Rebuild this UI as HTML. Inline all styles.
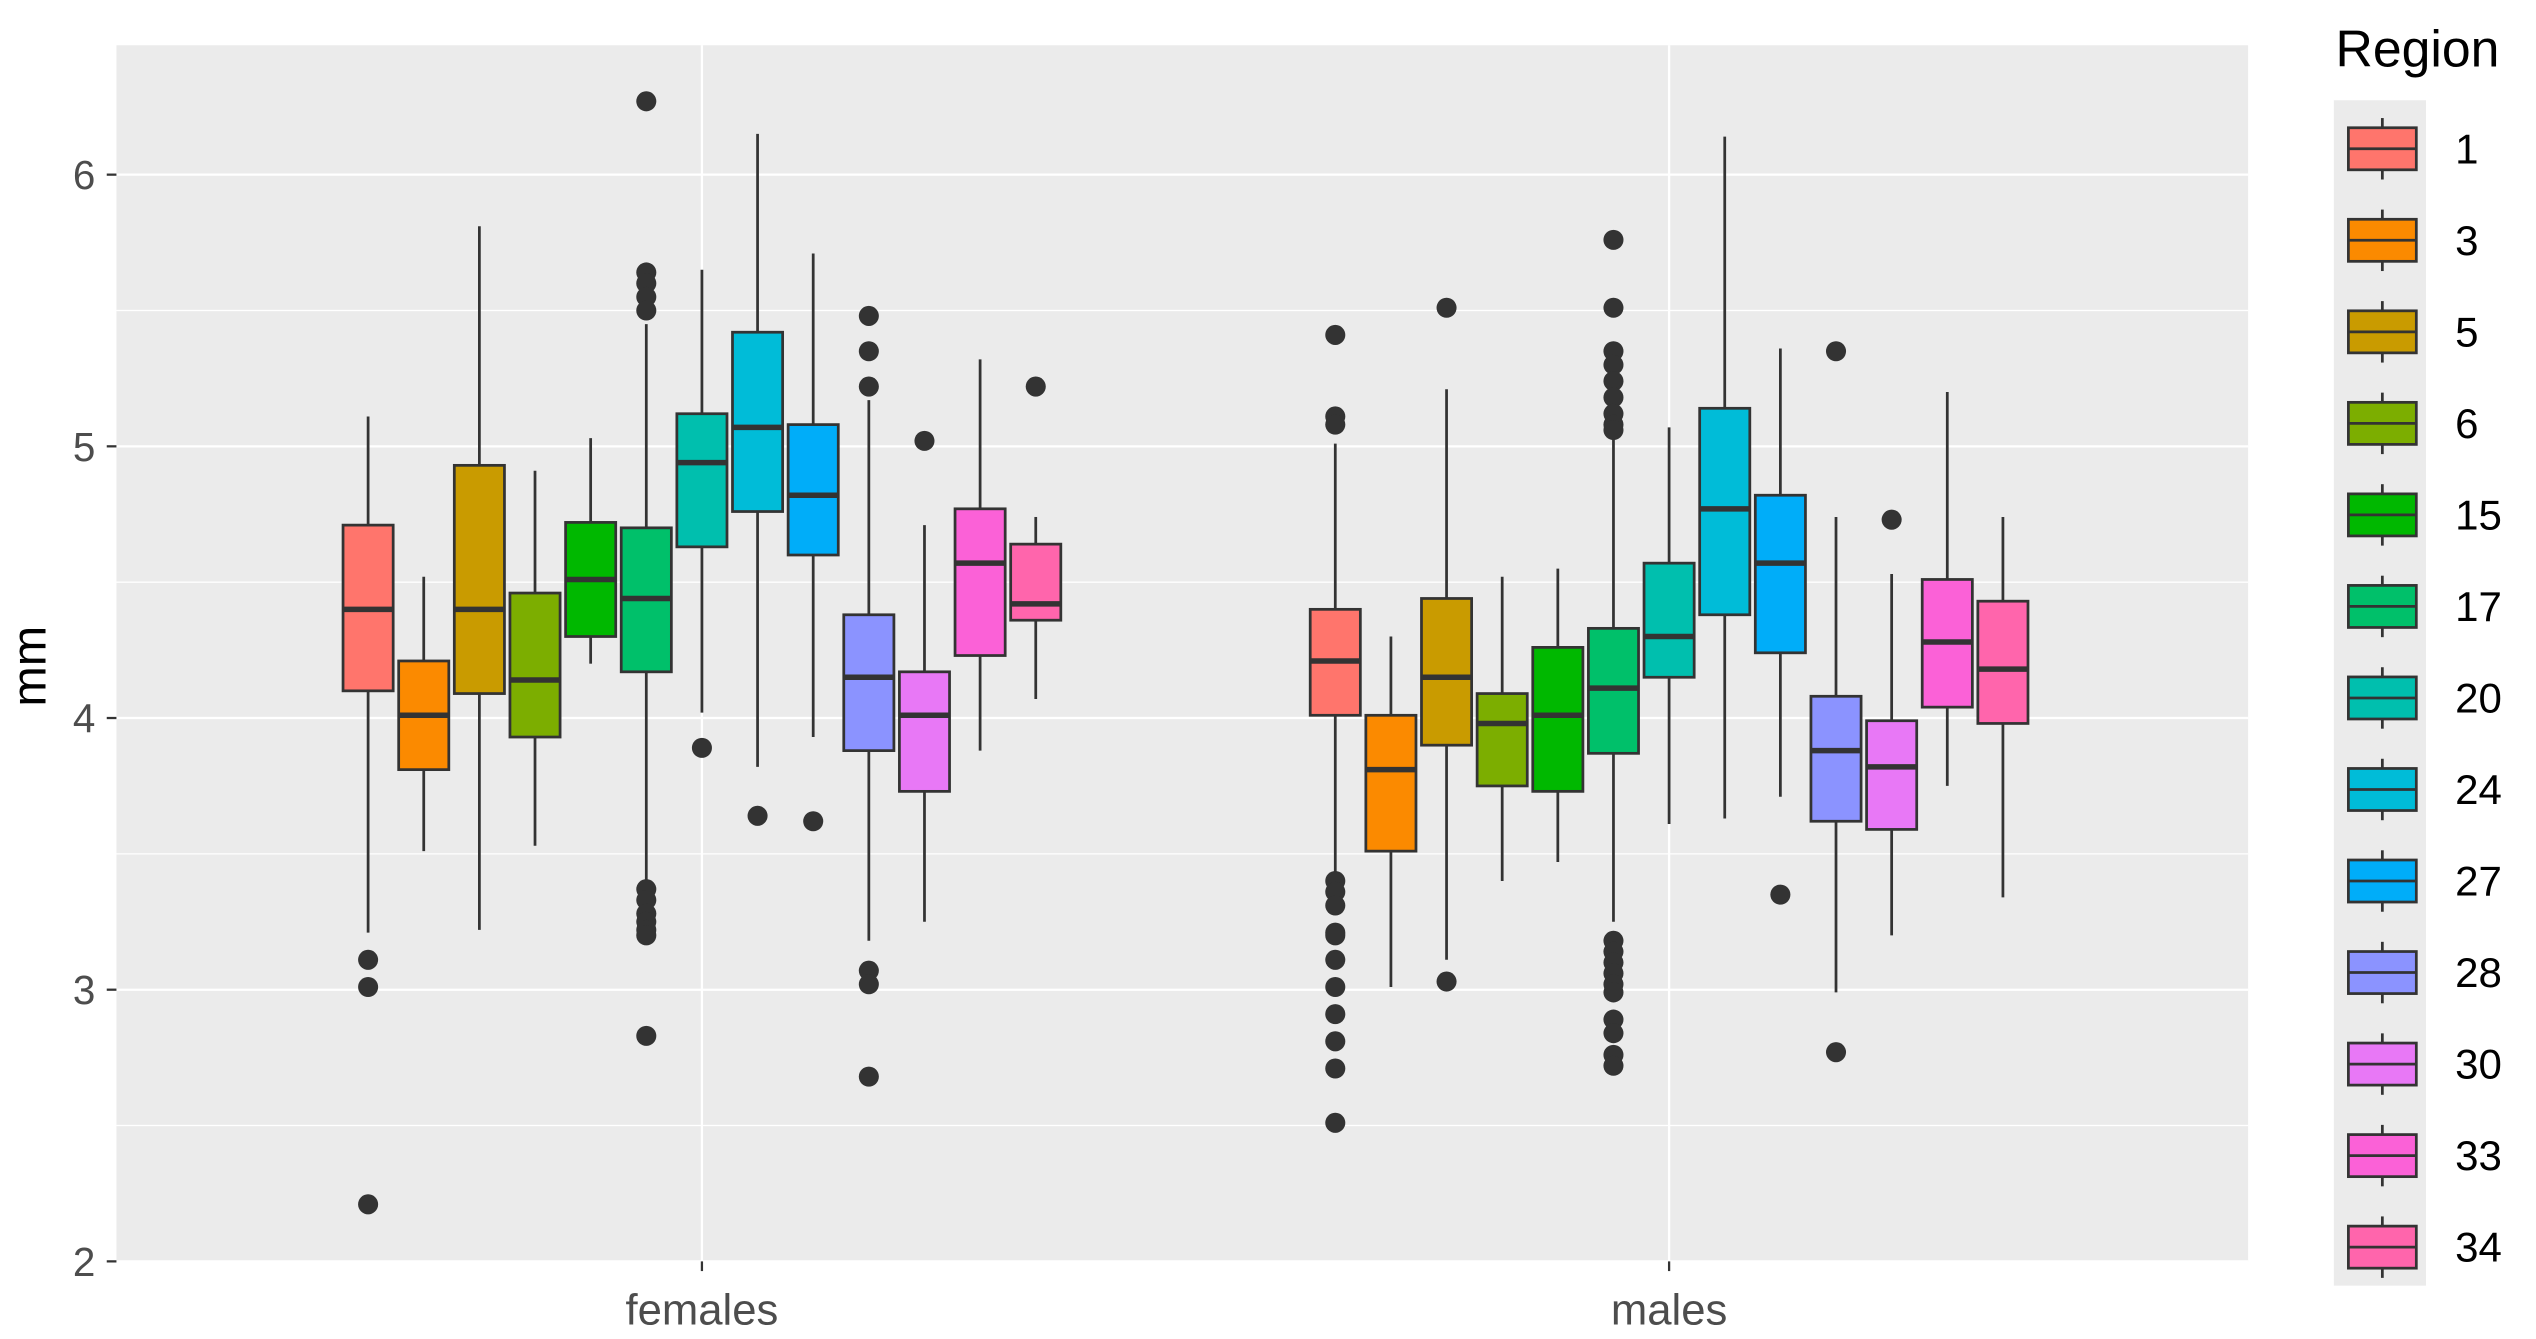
<!DOCTYPE html>
<html><head><meta charset="utf-8"><style>
html,body{margin:0;padding:0;background:#fff;}
svg{display:block;}
text{font-family:"Liberation Sans",Arial,sans-serif;}
</style></head><body>
<svg id="chart" width="2536" height="1339" viewBox="0 0 1568 828" preserveAspectRatio="none" xmlns="http://www.w3.org/2000/svg">
<rect x="72" y="28" width="1318" height="752" fill="#EBEBEB"/>
<g id="grid"></g><g id="boxes"></g><g id="axes"></g><g id="legend"></g>
</svg>
<script>
const groups = ["females","males"];
const regions = ["1","3","5","6","15","17","20","24","27","28","30","33","34"];
const colors = ["#FF756C","#FB8A00","#C99B00","#7CAE00","#00B800","#00C06A","#00BFAE","#00BCD8","#00ADF9","#8B93FF","#E878F6","#FB61D7","#FF65AC"];
const yTicks = [2,3,4,5,6];
// [low, q1, median, q3, high]
const femaleStats = [
 [3.21,4.10,4.40,4.71,5.11],[3.51,3.81,4.01,4.21,4.52],[3.22,4.09,4.40,4.93,5.81],[3.53,3.93,4.14,4.46,4.91],
 [4.20,4.30,4.51,4.72,5.03],[3.40,4.17,4.44,4.70,5.45],[4.02,4.63,4.94,5.12,5.65],[3.82,4.76,5.07,5.42,6.15],
 [3.93,4.60,4.82,5.08,5.71],[3.18,3.88,4.15,4.38,5.17],[3.25,3.73,4.01,4.17,4.71],[3.88,4.23,4.57,4.77,5.32],[4.07,4.36,4.42,4.64,4.74]];
const femaleOutliers = [
 [3.11,3.01,2.21],[],[],[],[],
 [6.27,5.64,5.60,5.55,5.50,3.37,3.33,3.28,3.25,3.22,3.20,2.83],
 [3.89],[3.64],[3.62],[5.48,5.35,5.22,3.07,3.02,2.68],[5.02],[],[5.22]];
const maleStats = [
 [3.43,4.01,4.21,4.40,5.01],[3.01,3.51,3.81,4.01,4.30],[3.11,3.90,4.15,4.44,5.21],[3.40,3.75,3.98,4.09,4.52],
 [3.47,3.73,4.01,4.26,4.55],[3.25,3.87,4.11,4.33,5.04],[3.61,4.15,4.30,4.57,5.07],[3.63,4.38,4.77,5.14,6.14],
 [3.71,4.24,4.57,4.82,5.36],[2.99,3.62,3.88,4.08,4.74],[3.20,3.59,3.82,3.99,4.53],[3.75,4.04,4.28,4.51,5.20],[3.34,3.98,4.18,4.43,4.74]];
const maleOutliers = [
 [5.41,5.11,5.08,3.40,3.36,3.31,3.21,3.20,3.11,3.01,2.91,2.81,2.71,2.51],[],[5.51,3.03],[],[],
 [5.76,5.51,5.35,5.30,5.24,5.18,5.12,5.08,5.06,3.18,3.14,3.10,3.06,3.02,2.99,2.89,2.84,2.76,2.72],
 [],[],[3.35],[5.35,2.77],[4.73],[],[]];
const allStats=[femaleStats,maleStats], allOut=[femaleOutliers,maleOutliers];
const NS="http://www.w3.org/2000/svg";
const Y0=780, PX=168;
function y(v){return Y0-(v-2)*PX;}
const gCenters=[434,1032], step=34.4, bw=31;
function x(gi,ri){return gCenters[gi]+(ri-(regions.length-1)/2)*step;}
function mk(tag,attrs,parent){const e=document.createElementNS(NS,tag);for(const k in attrs)e.setAttribute(k,attrs[k]);parent.appendChild(e);return e;}
const grid=document.getElementById('grid'),boxes=document.getElementById('boxes'),axes=document.getElementById('axes'),legend=document.getElementById('legend');
for(let v=2.5;v<6.5;v+=1){const l=mk('line',{x1:72,x2:1390,y1:y(v),y2:y(v),stroke:'#fff','stroke-width':0.8},grid);

}
yTicks.forEach(v=>{const l=mk('line',{x1:72,x2:1390,y1:y(v),y2:y(v),stroke:'#fff','stroke-width':1.4},grid);


const t=mk('line',{x1:66,x2:72,y1:y(v),y2:y(v),stroke:'#333','stroke-width':1.4},axes);


const tx=mk('text',{x:59,y:y(v)+9,'text-anchor':'end','font-size':25,fill:'#4D4D4D'},axes);tx.textContent=v;

});
groups.forEach((g,gi)=>{const l=mk('line',{x1:gCenters[gi],x2:gCenters[gi],y1:28,y2:780,stroke:'#fff','stroke-width':1.4},grid);


const t=mk('line',{x1:gCenters[gi],x2:gCenters[gi],y1:780,y2:786,stroke:'#333','stroke-width':1.4},axes);


const tx=mk('text',{x:gCenters[gi],y:819,'text-anchor':'middle','font-size':27,fill:'#4D4D4D'},axes);tx.textContent=g;


regions.forEach((r,ri)=>{const s=allStats[gi][ri],cx=x(gi,ri);
const b=mk('g',{},boxes);


mk('line',{x1:cx,x2:cx,y1:y(s[0]),y2:y(s[1]),stroke:'#333','stroke-width':1.7},b);
mk('line',{x1:cx,x2:cx,y1:y(s[3]),y2:y(s[4]),stroke:'#333','stroke-width':1.7},b);
mk('rect',{x:cx-bw/2,y:y(s[3]),width:bw,height:y(s[1])-y(s[3]),fill:colors[ri],stroke:'#333','stroke-width':1.7},b);
mk('line',{x1:cx-bw/2,x2:cx+bw/2,y1:y(s[2]),y2:y(s[2]),stroke:'#333','stroke-width':3.4},b);
allOut[gi][ri].forEach(o=>{const c=mk('circle',{cx:cx,cy:y(o),r:6.2,fill:'#333'},b);

});
});});
const yt=mk('text',{x:0,y:0,'font-size':30,fill:'#000','text-anchor':'middle',transform:'translate(28,412) rotate(-90)'},axes);yt.textContent='mm';


const lt=mk('text',{x:1444,y:41,'font-size':32,fill:'#000'},legend);lt.textContent='Region';


mk('rect',{x:1443,y:62,width:57,height:733,fill:'#EBEBEB'},legend);
regions.forEach((r,ri)=>{const cy=92+ri*56.6;
const e=mk('g',{},legend);


mk('line',{x1:1473,x2:1473,y1:cy-19,y2:cy+19,stroke:'#333','stroke-width':1.7},e);
mk('rect',{x:1452,y:cy-13,width:42,height:26,fill:colors[ri],stroke:'#333','stroke-width':1.7},e);
mk('line',{x1:1452,x2:1494,y1:cy,y2:cy,stroke:'#333','stroke-width':1.7},e);
const t=mk('text',{x:1518,y:cy+9,'font-size':26,fill:'#000'},e);t.textContent=r;});
</script>
</body></html>
